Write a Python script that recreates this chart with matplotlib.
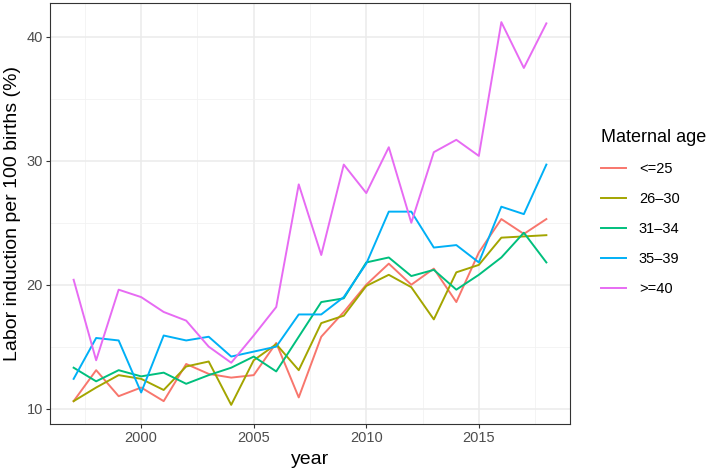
import matplotlib
matplotlib.use('Agg')
import matplotlib.pyplot as plt
from matplotlib.ticker import MultipleLocator

plt.rcParams['font.family'] = ['Liberation Sans', 'DejaVu Sans']

# Data #

years = list(range(1997, 2019))
age_groups = ['<=25', '26\u201330', '31\u201334', '35\u201339', '>=40']

le25 = [10.6, 13.1, 11.0, 11.7, 10.6, 13.6, 12.8, 12.5, 12.7, 15.3, 10.9,
        15.8, 17.8, 20.0, 21.7, 20.0, 21.3, 18.6, 22.6, 25.3, 24.1, 25.3]
a26_30 = [10.6, 11.7, 12.7, 12.4, 11.5, 13.4, 13.8, 10.3, 13.9, 15.2, 13.1,
          16.9, 17.5, 19.9, 20.8, 19.8, 17.2, 21.0, 21.6, 23.8, 23.9, 24.0]
a31_34 = [13.3, 12.2, 13.1, 12.6, 12.9, 12.0, 12.7, 13.3, 14.2, 13.0, 15.8,
          18.6, 18.9, 21.8, 22.2, 20.7, 21.2, 19.6, 20.8, 22.2, 24.2, 21.8]
a35_39 = [12.4, 15.7, 15.5, 11.3, 15.9, 15.5, 15.8, 14.2, 14.6, 15.0, 17.6,
          17.6, 19.0, 21.7, 25.9, 25.9, 23.0, 23.2, 21.8, 26.3, 25.7, 29.7]
ge40 = [20.4, 13.9, 19.6, 19.0, 17.8, 17.1, 15.0, 13.7, 15.9, 18.2, 28.1,
        22.4, 29.7, 27.4, 31.1, 25.0, 30.7, 31.7, 30.4, 41.2, 37.5, 41.1]

series = [le25, a26_30, a31_34, a35_39, ge40]
colours = ['#F8766D', '#A3A500', '#00BF7D', '#00B0F6', '#E76BF3']

# Plot #

fig = plt.figure(figsize=(7.09, 4.72), dpi=100)
ax = fig.add_axes([50 / 709, 1 - 424 / 472, 520 / 709, 421 / 472])

for vals, col, lab in zip(series, colours, age_groups):
    ax.plot(years, vals, color=col, lw=1.4, label=lab, zorder=3)

# ggplot-ish expansion
allv = [v for s in series for v in s]
lo, hi = min(allv), max(allv)
pad = (hi - lo) * 0.05
ax.set_ylim(lo - pad, hi + pad)
xpad = (years[-1] - years[0]) * 0.05
ax.set_xlim(years[0] - xpad, years[-1] + xpad)

ax.xaxis.set_major_locator(MultipleLocator(5))
ax.xaxis.set_minor_locator(MultipleLocator(2.5))
ax.yaxis.set_major_locator(MultipleLocator(10))
ax.yaxis.set_minor_locator(MultipleLocator(5))

ax.grid(which='major', color='#EBEBEB', lw=1.1, zorder=0)
ax.grid(which='minor', color='#F2F2F2', lw=0.6, zorder=0)
ax.set_axisbelow(True)

for sp in ax.spines.values():
    sp.set_color('#333333')
    sp.set_linewidth(0.8)

ax.tick_params(which='major', length=3, width=0.8, color='#333333',
               labelsize=10.5, labelcolor='#4D4D4D', pad=2)
ax.tick_params(which='minor', length=0)

ax.set_xlabel('year', fontsize=14, labelpad=4)
ax.set_ylabel('Labor induction per 100 births (%)', fontsize=14, labelpad=4)

leg = fig.legend(loc='center left', bbox_to_anchor=(0.829, 0.55),
                 frameon=False, title='Maternal age', alignment='left',
                 fontsize=10.5, title_fontsize=13, handlelength=1.7,
                 handletextpad=0.9, labelspacing=1.1)

fig.savefig('out.png', dpi=100)
